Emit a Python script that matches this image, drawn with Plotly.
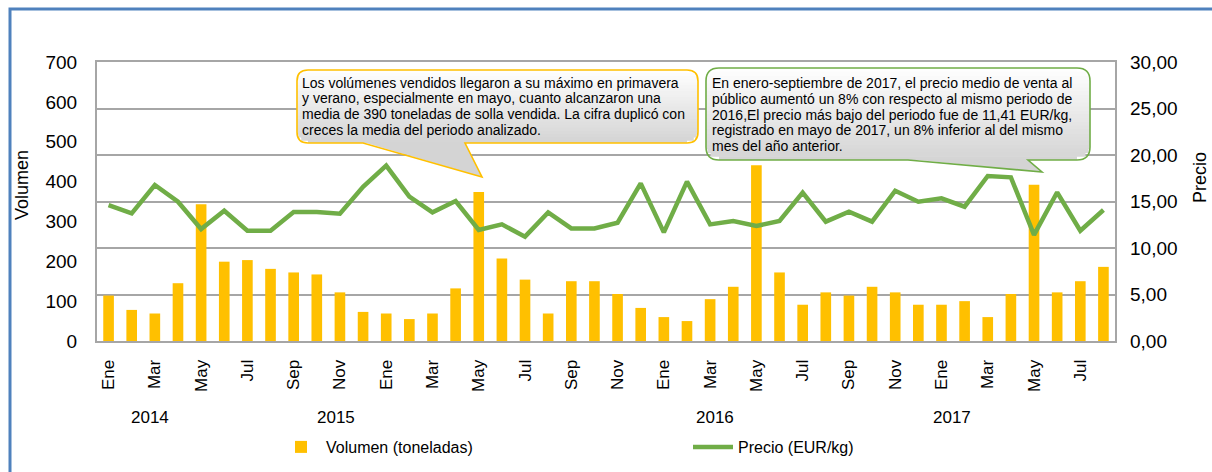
import math
import plotly.graph_objects as go

# ---------------- data ----------------
meses = ["Ene", "Feb", "Mar", "Abr", "May", "Jun", "Jul", "Ago", "Sep", "Oct", "Nov", "Dic"]
anios = [2014, 2015, 2016, 2017]
meses_por_anio = [12, 12, 12, 8]

volumen_2014 = [114, 78, 69, 145, 343, 199, 203, 181, 172, 167, 122, 73]
volumen_2015 = [69, 55, 69, 132, 374, 207, 154, 69, 150, 150, 118, 83]
volumen_2016 = [60, 50, 105, 136, 441, 172, 91, 122, 114, 136, 122, 91]
volumen_2017 = [91, 100, 60, 118, 392, 122, 150, 186]

precio_2014 = [14.62, 13.73, 16.77, 14.98, 12.04, 14.01, 11.86, 11.86, 13.87, 13.87, 13.69, 16.59]
precio_2015 = [18.85, 15.52, 13.83, 15.05, 11.94, 12.54, 11.22, 13.83, 12.11, 12.11, 12.72, 16.95]
precio_2016 = [11.68, 17.13, 12.54, 12.90, 12.37, 12.90, 15.95, 12.83, 13.91, 12.83, 16.16, 14.98]
precio_2017 = [15.34, 14.44, 17.74, 17.60, 11.41, 15.99, 11.86, 14.09]

nota_volumen = [
    "Los volúmenes vendidos llegaron a su máximo en primavera",
    "y verano, especialmente en mayo, cuanto alcanzaron una",
    "media de 390 toneladas de solla vendida. La cifra duplicó con",
    "creces la media del periodo analizado.",
]
nota_precio = [
    "En enero-septiembre de 2017, el precio medio de venta al",
    "público aumentó un 8% con respecto al mismo periodo de",
    "2016,El precio más bajo del periodo fue de 11,41 EUR/kg,",
    "registrado en mayo de 2017, un 8% inferior al del mismo",
    "mes del año anterior.",
]

volumen = volumen_2014 + volumen_2015 + volumen_2016 + volumen_2017
precio = precio_2014 + precio_2015 + precio_2016 + precio_2017
categorias = []
for a, n in zip(anios, meses_por_anio):
    for m in meses[:n]:
        categorias.append(f"{m} {a}")
tick_vals = categorias[::2]
tick_text = [c.split(" ")[0] for c in tick_vals]

# ---------------- layout helpers (pixel -> paper) ----------------
W, H = 1212, 472
PL, PR, PT, PB = 97, 1115, 62, 341


def px(x):
    return (x - PL) / (PR - PL)


def py(y):
    return (PB - y) / (PB - PT)


FONT = "Liberation Sans, Arial, sans-serif"
GRID = "#A6A6A6"
BAR = "#FFC000"
LINE = "#70AD47"

fig = go.Figure()
fig.add_trace(go.Bar(
    x=categorias, y=volumen, name="Volumen (toneladas)", showlegend=True,
    marker=dict(color=BAR, line=dict(width=0)), yaxis="y", legend="legend",
))
fig.add_trace(go.Scatter(
    x=categorias, y=precio, name="Precio (EUR/kg)", mode="lines", showlegend=True,
    line=dict(color=LINE, width=4.5), yaxis="y2", legend="legend2",
))

shapes = []


def P(x, y):
    return f"{px(x):.5f},{py(y):.5f}"


def callout(x0, y0, x1, y1, r, bl, br, tx, ty, border, n=24):
    # gradient fill stripes
    h = (y1 - y0) / n
    top, bot = 255, 212
    for i in range(n):
        ya = y0 + i * h
        yb = min(y1, ya + h + 0.7)
        ins = 0.0
        for yy in (ya, yb):
            d = min(yy - y0, y1 - yy)
            if d < r:
                ins = max(ins, r - math.sqrt(max(r * r - (r - d) ** 2, 0)))
        t = ((ya + yb) / 2 - y0) / (y1 - y0)
        g = round(top + (bot - top) * t)
        col = f"rgb({g},{g},{g})"
        shapes.append(dict(type="path", xref="paper", yref="paper",
                           path=f"M{P(x0 + ins, ya)} L{P(x1 - ins, ya)} L{P(x1 - ins, yb)} L{P(x0 + ins, yb)} Z",
                           fillcolor=col, line=dict(width=0), layer="above"))
    # pointer fill
    shapes.append(dict(type="path", xref="paper", yref="paper",
                       path=f"M{P(bl, y1 - 1)} L{P(br, y1 - 1)} L{P(tx, ty)} Z",
                       fillcolor=f"rgb({bot},{bot},{bot})", line=dict(width=0), layer="above"))
    # outline
    path = (f"M{P(x0 + r, y0)} L{P(x1 - r, y0)} Q{P(x1, y0)} {P(x1, y0 + r)} "
            f"L{P(x1, y1 - r)} Q{P(x1, y1)} {P(x1 - r, y1)} L{P(br, y1)} L{P(tx, ty)} "
            f"L{P(bl, y1)} L{P(x0 + r, y1)} Q{P(x0, y1)} {P(x0, y1 - r)} "
            f"L{P(x0, y0 + r)} Q{P(x0, y0)} {P(x0 + r, y0)} Z")
    shapes.append(dict(type="path", xref="paper", yref="paper", path=path,
                       line=dict(color=border, width=1.6), layer="above"))


callout(297, 70, 698, 143, 11, 363, 465, 482, 177, BAR)
callout(706, 68, 1090, 160, 13, 908, 1028, 1042, 172, LINE)

# outer blue frame
shapes.append(dict(type="rect", xref="paper", yref="paper",
                   x0=px(10), x1=px(1260), y0=py(9), y1=py(520),
                   line=dict(color="#4F81BD", width=3), layer="above"))

annotations = []
for i, linea in enumerate(nota_volumen):
    annotations.append(dict(xref="paper", yref="paper", x=px(300), y=py(82.7 + 15.8 * i),
                            xanchor="left", yanchor="middle", text=linea, showarrow=False,
                            font=dict(family=FONT, size=14, color="#000000")))
for i, linea in enumerate(nota_precio):
    annotations.append(dict(xref="paper", yref="paper", x=px(710), y=py(83.3 + 15.7 * i),
                            xanchor="left", yanchor="middle", text=linea, showarrow=False,
                            font=dict(family=FONT, size=14, color="#000000")))
annotations += [
    dict(xref="paper", yref="paper", x=px(22), y=py(185), xanchor="center", yanchor="middle",
         text="Volumen", textangle=-90, showarrow=False,
         font=dict(family=FONT, size=18, color="#000000")),
    dict(xref="paper", yref="paper", x=px(1200), y=py(178), xanchor="center", yanchor="middle",
         text="Precio", textangle=-90, showarrow=False,
         font=dict(family=FONT, size=18, color="#000000")),
]
for a, xc in zip(anios, [150, 336, 715, 952]):
    annotations.append(dict(xref="paper", yref="paper", x=px(xc), y=py(417),
                            xanchor="center", yanchor="middle", text=str(a),
                            showarrow=False, font=dict(family=FONT, size=17, color="#000000")))

LEG_Y = 1 - 447 / H
fig.update_layout(
    width=W, height=H, autosize=False, showlegend=True,
    margin=dict(l=PL, r=W - PR, t=PT, b=H - PB, pad=0, autoexpand=False),
    paper_bgcolor="white", plot_bgcolor="white",
    separators=",.",
    bargap=0.54,
    font=dict(family=FONT, color="#000000"),
    xaxis=dict(type="category", categoryorder="array", categoryarray=categorias,
               range=[-0.5, len(categorias) - 0.5], automargin=False,
               tickmode="array", tickvals=tick_vals, ticktext=tick_text, tickangle=-90,
               ticks="", ticklabelstandoff=10,
               tickfont=dict(family=FONT, size=17, color="#000000"),
               showline=True, linecolor=GRID, linewidth=2, mirror=True,
               showgrid=False, zeroline=False),
    yaxis=dict(range=[0, 700], dtick=100, showgrid=False, zeroline=False, automargin=False,
               showline=True, linecolor=GRID, linewidth=2, mirror=True,
               ticks="", ticklabelstandoff=14,
               tickfont=dict(family=FONT, size=19, color="#000000")),
    yaxis2=dict(range=[0, 30], dtick=5, tickformat=".2f", overlaying="y", side="right",
                showgrid=True, gridcolor=GRID, gridwidth=1.5, zeroline=False, automargin=False,
                showline=False, ticks="", ticklabelstandoff=14,
                tickfont=dict(family=FONT, size=19, color="#000000")),
    legend=dict(x=px(276), y=LEG_Y, yref="container", xanchor="left", yanchor="middle",
                orientation="h", bgcolor="rgba(0,0,0,0)", itemwidth=40,
                font=dict(family=FONT, size=16, color="#000000")),
    legend2=dict(x=px(688), y=LEG_Y, yref="container", xanchor="left", yanchor="middle",
                 orientation="h", bgcolor="rgba(0,0,0,0)", itemwidth=40,
                 font=dict(family=FONT, size=16, color="#000000")),
    shapes=shapes,
    annotations=annotations,
)

fig.write_html("out.html", include_plotlyjs=True, config={"displayModeBar": False},
               post_script="document.body.style.margin='0';document.body.style.overflow='hidden';")
